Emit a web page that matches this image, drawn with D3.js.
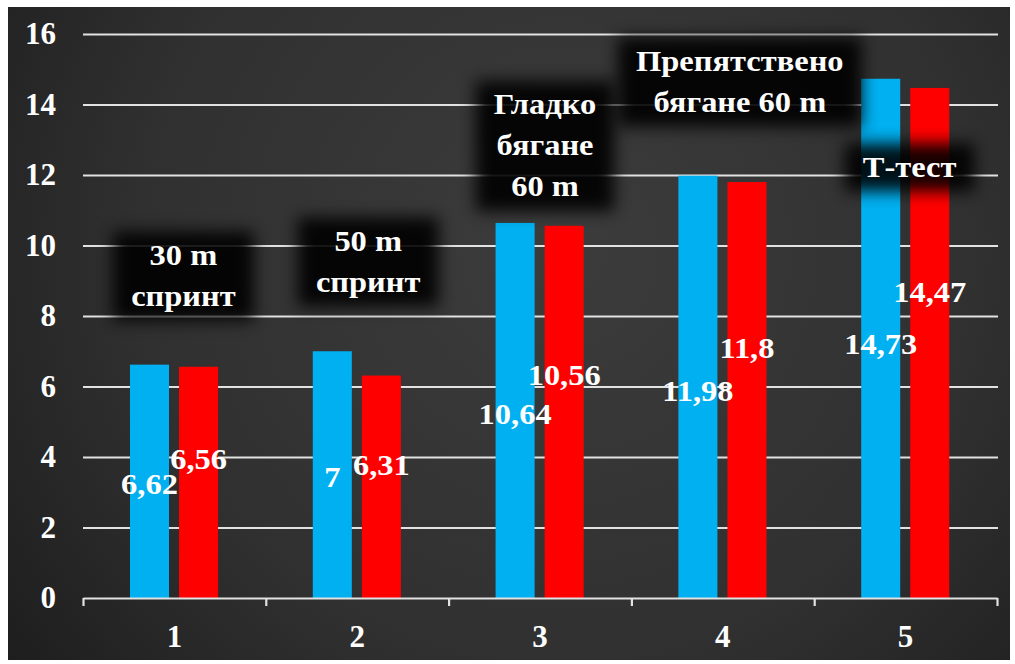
<!DOCTYPE html>
<html>
<head>
<meta charset="utf-8">
<script src="https://cdn.jsdelivr.net/npm/d3@7"></script>
<style>
  html, body { margin: 0; padding: 0; background: #ffffff; }
  svg { display: block; }
  text { font-family: "Liberation Serif", "Times New Roman", serif; font-weight: bold; fill: #ffffff; }
</style>
</head>
<body>
<svg id="chart" width="1015" height="664"></svg>
<script>
// Test number on the category axis
const categories = ["1", "2", "3", "4", "5"];
// Results of the two measurements for each test
const seriesA = [6.62, 7, 10.64, 11.98, 14.73];
const seriesB = [6.56, 6.31, 10.56, 11.8, 14.47];
// Value labels as printed (decimal comma)
const labelsA = ["6,62", "7", "10,64", "11,98", "14,73"];
const labelsB = ["6,56", "6,31", "10,56", "11,8", "14,47"];
// Y axis ticks
const yTicks = [0, 2, 4, 6, 8, 10, 12, 14, 16];
// Test names, one line per entry
const testNames = [
  ["30 m", "спринт"],
  ["50 m", "спринт"],
  ["Гладко", "бягане", "60 m"],
  ["Препятствено", "бягане 60 m"],
  ["Т-тест"]
];

// ---- layout ----
const plot = { left: 83, right: 997, top: 34, bottom: 598 };
const colorA = "#00b0f0", colorB = "#ff0000";
const textStretch = 1.12;
// Name label anchors: pixel offset from band centre, first baseline as a y value
const nameAnchors = [
  { dx: 9, yv: 9.45 },
  { dx: 11, yv: 9.85 },
  { dx: 5, yv: 13.72 },
  { dx: 17, yv: 14.95 },
  { dx: 4, yv: 11.95 }
];
const nameLineGap = 41;

const svg = d3.select("#chart");
const defs = svg.append("defs");

const bg = defs.append("radialGradient").attr("id", "bg")
  .attr("gradientUnits", "userSpaceOnUse")
  .attr("cx", 560).attr("cy", 250).attr("r", 700);
bg.append("stop").attr("offset", "0%").attr("stop-color", "#3c3c3c");
bg.append("stop").attr("offset", "60%").attr("stop-color", "#303030");
bg.append("stop").attr("offset", "100%").attr("stop-color", "#1d1d1d");

defs.append("filter").attr("id", "soft")
  .attr("x", "-40%").attr("y", "-40%").attr("width", "180%").attr("height", "180%")
  .append("feGaussianBlur").attr("stdDeviation", 8);

// panel
svg.append("rect").attr("x", 8).attr("y", 7).attr("width", 1002).attr("height", 653)
  .attr("fill", "url(#bg)");

const x = d3.scaleBand().domain(categories).range([plot.left, plot.right]).padding(0);
const inner = d3.scaleBand().domain(["a", "b"])
  .range([x.bandwidth() * 0.257, x.bandwidth() * 0.739]).paddingInner(0.204);
const y = d3.scaleLinear().domain([0, 16]).range([plot.bottom, plot.top]);

// horizontal gridlines
const grid = svg.append("g").attr("transform", `translate(${plot.left},0)`)
  .call(d3.axisLeft(y).tickValues(yTicks.filter(d => d > 0))
    .tickSize(-(plot.right - plot.left + 1)).tickFormat(""));
grid.select(".domain").remove();
grid.selectAll("line").attr("stroke", "#e2e2e2").attr("stroke-width", 2.2);

// y tick labels
const yAxis = svg.append("g").attr("transform", `translate(${plot.left},0)`)
  .call(d3.axisLeft(y).tickValues(yTicks).tickSize(0).tickPadding(27).tickFormat(d3.format("d")));
yAxis.select(".domain").remove();
yAxis.selectAll("text").style("font-size", "31px").attr("fill", "#fff");

// bars
const rows = categories.map((c, i) => ({ c, a: seriesA[i], b: seriesB[i], la: labelsA[i], lb: labelsB[i] }));
const groups = svg.append("g").selectAll("g").data(rows).join("g")
  .attr("transform", d => `translate(${x(d.c)},0)`);
groups.append("rect").attr("x", inner("a")).attr("width", inner.bandwidth())
  .attr("y", d => y(d.a)).attr("height", d => y(0) - y(d.a)).attr("fill", colorA);
groups.append("rect").attr("x", inner("b")).attr("width", inner.bandwidth())
  .attr("y", d => y(d.b)).attr("height", d => y(0) - y(d.b)).attr("fill", colorB);

// category axis with ticks on band boundaries
const xb = d3.scaleLinear().domain([0, categories.length]).range([plot.left, plot.right]);
const xAxis = svg.append("g").attr("transform", `translate(0,${plot.bottom})`)
  .call(d3.axisBottom(xb).tickValues(d3.range(0, categories.length + 1)).tickSize(8).tickSizeOuter(0).tickFormat(""));
xAxis.select(".domain").attr("stroke", "#e2e2e2").attr("stroke-width", 2.2);
xAxis.selectAll("line").attr("stroke", "#e2e2e2").attr("stroke-width", 2.2);

const xLab = svg.append("g").attr("transform", `translate(0,${plot.bottom})`)
  .call(d3.axisBottom(x).tickSize(0).tickPadding(27));
xLab.select(".domain").remove();
xLab.selectAll("text").style("font-size", "31px").attr("fill", "#fff");

// value labels, slightly widened
function valueLabel(key, frac, textKey) {
  const cx = inner(key) + inner.bandwidth() / 2;
  groups.append("g")
    .attr("transform", d => `translate(${cx},${y(d[key] * frac) + 10}) scale(${textStretch},1)`)
    .append("text").attr("text-anchor", "middle").style("font-size", "29px")
    .text(d => d[textKey]);
}
valueLabel("a", 0.49, "la");
valueLabel("b", 0.6, "lb");

// test names on blurred dark plates
const names = svg.append("g");
testNames.forEach((lines, i) => {
  const cx = x(categories[i]) + x.bandwidth() / 2 + nameAnchors[i].dx;
  const y0 = y(nameAnchors[i].yv);
  const g = names.append("g").attr("transform", `translate(${cx},${y0})`);
  const plate = g.append("rect").attr("fill", "#000").attr("opacity", 0.9).attr("filter", "url(#soft)");
  const t = g.append("text").attr("text-anchor", "middle").style("font-size", "29px")
    .attr("transform", `scale(${textStretch},1)`);
  lines.forEach((s, k) => t.append("tspan").attr("x", 0).attr("y", k * nameLineGap).text(s));
  const bb = t.node().getBBox();
  const w = bb.width * textStretch;
  plate.attr("x", -w / 2 - 18).attr("y", bb.y - 8).attr("width", w + 36).attr("height", bb.height + 16);
});
</script>
</body>
</html>
